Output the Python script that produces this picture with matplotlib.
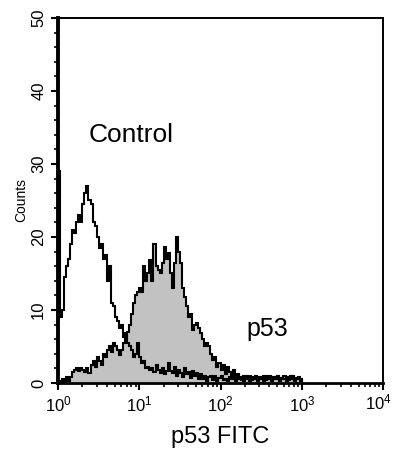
import numpy as np
import matplotlib
matplotlib.use('Agg')
import matplotlib.pyplot as plt
from matplotlib.ticker import LogLocator, MultipleLocator, FuncFormatter

plt.rcParams['font.family'] = ['Liberation Sans', 'DejaVu Sans']

# log10 channel width (40 channels per decade), counts
log_step = 0.025
control = [29, 9, 10, 14.5, 16, 17, 19, 21, 20.5, 22,
           23, 22, 24.5, 26, 27, 25, 24.5, 22, 21.5, 20,
           18.5, 19, 17, 17.5, 14, 16, 11, 10.5, 9, 8.5,
           7.5, 8, 6.3, 6.8, 5.5, 5, 4.5, 3.6, 4, 5.5,
           3.5, 2.7, 3, 2, 2.2, 1.8, 2, 1.5, 2.5, 1.8,
           1.4, 2, 1.2, 1.6, 2.7, 1.6, 1.3, 2.2, 1, 1.8,
           1.4, 0.8, 2, 1.2, 1.5, 0.7, 1.6, 1, 1.4, 0.6,
           1.2, 0.5, 1, 0.3, 0.8, 1, 0.4, 0.9, 0.3, 0.7,
           1, 0.4, 0.6, 0.2, 0.8, 0.5, 0.9, 0.3, 0.6, 0.8,
           0.4, 0.9, 0.5, 0.7, 0.3, 0.8, 0.6, 0.9, 0.4, 0.7,
           0.8, 0.3, 0.9, 0.5, 0.7, 0.4, 0.8, 0.6, 0.9, 0.3,
           0.7, 0.5, 0.8, 0.4, 0.9, 0.6, 0.3, 0.7, 0.8, 0.5]
p53 = [0.3, 0, 0.5, 0, 0.8, 0.3, 0.8, 1.5, 1.8, 2,
       1.6, 2, 1.8, 1.5, 2, 1.4, 2.5, 3, 2.2, 3.5,
       3, 2.5, 4, 3.5, 4.5, 5, 4.2, 5.5, 5, 4.5,
       3.8, 4.5, 5.5, 6, 7, 8, 9.5, 11, 12, 12.5,
       13, 12.5, 16, 14, 15, 16.8, 14, 19, 16, 15.5,
       15, 16.5, 18.6, 17, 17.8, 15, 13, 16.4, 20, 18,
       16.4, 13, 11.8, 10.5, 9, 9.5, 7.3, 8, 8.2, 7.5,
       6.8, 6, 5, 5.5, 5, 4, 3.2, 3.5, 2.2, 2.7,
       1.8, 2.5, 1.2, 2.2, 1.5, 1, 1.8, 0.7, 1.2, 0.5,
       0.8, 0.3, 0.9, 0.5, 1, 0.4, 0.7, 0.9, 0.3, 0.8,
       0.5, 1, 0.4, 0.7, 0.9, 0.3, 0.8, 0.6, 1, 0.4,
       0.7, 0.9, 0.3, 0.8, 0.5, 0.9, 0.4, 0.7, 0.6, 0.3]

edges = 10 ** (np.arange(len(control) + 1) * log_step)

fig = plt.figure(figsize=(3.93, 4.5), dpi=100)
ax = fig.add_axes([0.1476, 0.149, 0.827, 0.811])

ax.stairs(p53, edges, fill=True, color='#c2c2c2', zorder=1)
ax.stairs(p53, edges, color='black', linewidth=1.5, zorder=2)
ax.stairs(control, edges, color='black', linewidth=1.5, zorder=3)

ax.set_xscale('log')
ax.set_xlim(1, 1e4)
ax.set_ylim(0, 50)
ax.xaxis.set_major_locator(LogLocator(base=10, numticks=10))
ax.xaxis.set_minor_locator(LogLocator(base=10, subs=np.arange(2, 10), numticks=50))
ax.yaxis.set_major_locator(MultipleLocator(10))
ax.yaxis.set_minor_locator(MultipleLocator(2))

# last decade label is placed by hand so it stays inside the figure
def decade_label(v, pos):
    e = int(round(np.log10(v)))
    if e >= 4:
        return ''
    return r'$\mathdefault{10^{%d}}$' % e

ax.xaxis.set_major_formatter(FuncFormatter(decade_label))
ax.annotate(r'$\mathdefault{10^{4}}$', xy=(1e4, 0), xycoords='data',
            xytext=(-3, -7.1), textcoords='offset points',
            ha='center', va='top', fontsize=12, annotation_clip=False)

ax.tick_params(which='both', direction='out', top=False, right=False, labelsize=12)
ax.tick_params(which='major', length=5, width=1.5)
ax.tick_params(which='minor', length=3, width=1.2)
for lab in ax.get_yticklabels():
    lab.set_rotation(90)
    lab.set_va('center')

ax.spines['left'].set_linewidth(2.8)
ax.spines['bottom'].set_linewidth(2)
ax.spines['top'].set_linewidth(1.4)
ax.spines['right'].set_linewidth(1.4)

ax.set_ylabel('Counts', fontsize=10, labelpad=2)
ax.set_xlabel('p53 FITC', fontsize=17, labelpad=8)

ax.text(0.093, 0.66, 'Control', transform=ax.transAxes, fontsize=19)
ax.text(0.58, 0.13, 'p53', transform=ax.transAxes, fontsize=18)

fig.savefig('out.png', dpi=100)
